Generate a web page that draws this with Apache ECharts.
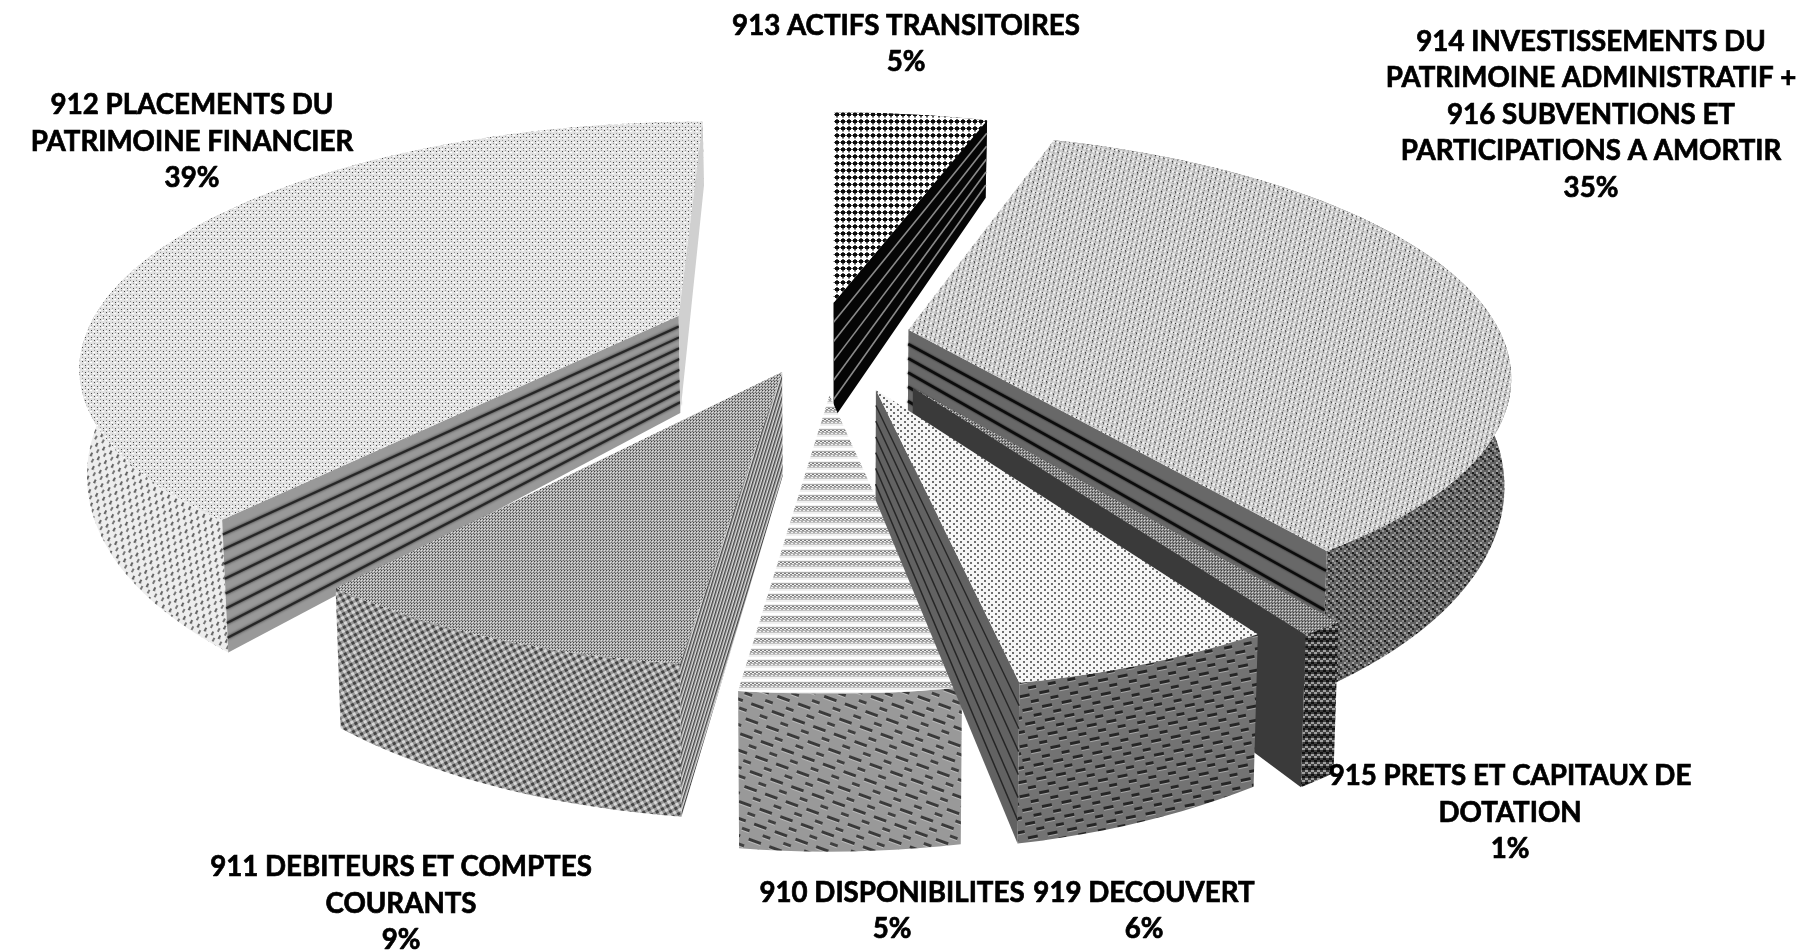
<!DOCTYPE html>
<html><head><meta charset="utf-8">
<style>html,body{margin:0;padding:0;background:#fff}#c{width:1819px;height:950px}</style>
<script src="https://cdn.jsdelivr.net/npm/echarts@6/dist/echarts.min.js"></script>
</head><body><div id="c"></div>
<script>
const categories = ['913 ACTIFS TRANSITOIRES','914 INVESTISSEMENTS DU\nPATRIMOINE ADMINISTRATIF +\n916 SUBVENTIONS ET\nPARTICIPATIONS A AMORTIR','915 PRETS ET CAPITAUX DE\nDOTATION','919 DECOUVERT','910 DISPONIBILITES','911 DEBITEURS ET COMPTES\nCOURANTS','912 PLACEMENTS DU\nPATRIMOINE FINANCIER'];
const values = [5,35,1,6,5,9,39];

// layout (pie order)
const explodeX = [-0.006,0.121,0.123,0.063,-0.012,-0.09,-0.271];
const explodeY = [-0.123,-0.005,0.233,0.24,0.262,0.17,-0.066];
const radiusK = [1,1,0.97,0.96,0.95,0.97,1];
const depthK = [1.22,1,1,1,0.97,0.97,1];
const labelX = [906,1591,1510,1144,892,401,192];
const labelY = [44,115,813,911,911,904,142];
const drawOrder = [0,6,1,2,5,4,3];
const CX=837, CY=331, F=591, G=234, A=0.18, H1=225, H0=125;
const total = values.reduce((a,b)=>a+b,0);
let acc=0;
const angles = values.map(v=>{const a=[acc/total*2*Math.PI,(acc+v)/total*2*Math.PI];acc+=v;return a;});

function tile(w,h,bg,marks){
  const c=document.createElement('canvas');c.width=w;c.height=h;
  const g=c.getContext('2d');g.fillStyle=bg;g.fillRect(0,0,w,h);
  marks.forEach(m=>{g.fillStyle=m[4];g.fillRect(m[0],m[1],m[2],m[3]);});
  return c;
}
function pat(c,rot,sx,sy){return {image:c,repeat:'repeat',rotation:rot||0,scaleX:sx||1,scaleY:sy||sx||1};}
const W='#fff';
const tops=[
  pat(tile(6,7,W,[[1,1,4,3,'#0c0c0c'],[2,0,2,1,'#555'],[2,4,2,1,'#555'],[0,2,1,1,'#555'],[5,2,1,1,'#555'],[2,5,2,1,'#999']])),
  pat(tile(6,7,'#cecece',[[0,0,1,1,'#2a2a2a'],[3,3,1,2,'#333'],[1,1,2,2,'#f6f6f6'],[4,5,2,2,'#f6f6f6'],[2,5,1,1,'#777'],[5,2,1,1,'#777']]),-0.5),
  pat(tile(3,3,'#8c8c8c',[[0,0,1,1,'#3a3a3a'],[1,1,1,1,'#d8d8d8'],[2,2,1,1,'#555']])),
  pat(tile(7,6,'#f6f6f6',[[1,1,2,2,'#6e6e6e'],[4,4,2,2,'#6e6e6e']])),
  pat(tile(4,11,'#f0f0f0',[[0,0,4,1,'#aaa'],[0,1,2,1,'#777'],[2,2,2,1,'#888'],[0,3,4,1,'#b0b0b0'],[1,4,2,1,'#aaa'],[0,5,4,1,'#c4c4c4'],[0,8,4,1,W],[0,9,4,1,W]])),
  pat(tile(3,3,'#a8a8a8',[[0,0,1,1,'#404040'],[1,1,1,1,'#e0e0e0'],[2,2,1,1,'#666'],[2,0,1,1,'#ccc']])),
  pat(tile(6,7,'#e2e2e2',[[1,1,1,1,'#444'],[4,4,1,1,'#444'],[3,2,2,1,W],[0,5,2,1,W],[1,3,1,1,'#999'],[4,0,1,1,'#999']]))
];
const walls=[
  pat(tile(6,6,'#222',[[0,0,2,6,'#444']])),
  pat(tile(8,8,'#626262',[[0,0,2,2,'#1c1c1c'],[2,2,2,2,'#262626'],[4,0,2,2,'#a4a4a4'],[6,2,2,2,'#949494'],[4,4,2,2,'#262626'],[0,6,2,2,'#a4a4a4'],[2,4,2,2,'#8c8c8c']])),
  pat(tile(6,8,'#3e3e3e',[[0,0,3,2,'#111'],[3,2,3,2,'#a0a0a0'],[0,4,3,2,'#a0a0a0'],[3,6,3,2,'#111']])),
  pat(tile(20,14,'#737373',[[1,2,10,3,'#262626'],[11,9,8,3,'#262626'],[1,5,10,1,'#a8a8a8'],[11,12,8,1,'#a0a0a0']]),-0.2),
  pat(tile(22,16,'#999',[[1,2,13,3,'#3a3a3a'],[13,10,8,3,'#404040'],[1,5,13,1,'#bcbcbc'],[13,13,8,1,'#bcbcbc']]),0.35),
  pat(tile(6,6,'#999',[[0,0,3,3,'#444'],[3,3,3,3,'#d6d6d6']]),-0.5),
  pat(tile(8,11,'#ededed',[[1,1,2,4,'#666'],[5,6,2,4,'#777'],[3,3,1,2,'#ccc']]),0.5)
];
const fineDiag=pat(tile(3,3,'#999',[[0,0,1,3,'#444'],[2,0,1,3,'#ddd']]),0.3);
const plain=c=>({fill:c});
// visible cut faces of each slice: [at start angle, at end angle]
const cuts=[
  [null,{fill:'#050505',lines:5,line:'#8a8a8a',lw:1.6}],
  [null,{fill:'#686868',lines:6,line:'#0c0c0c',lw:2.4,blur:2}],
  [null,plain('#3a3a3a')],
  [null,{fill:'#626262',lines:6,line:'#262626',lw:1.4}],
  [null,null],
  [{fill:fineDiag},null],
  [{fill:'#999',lines:8,line:'#262626',lw:2.2,blur:3},plain('#d0d0d0')]
];

function pt(i,th,r,down){
  const rr=r*radiusK[i];
  const X=explodeX[i]+rr*Math.sin(th), Y=explodeY[i]-rr*Math.cos(th), w=1-A*Y;
  let x=CX+F*X/w, y=CY+G*Y/w;
  if(down){x=CX+(x-CX)*(1-0.01*down); y+=(H1/w-H0)*down*depthK[i];}
  return [x,y];
}
function cutFace(i,th,st){
  if(!st) return [];
  const a=pt(i,th,0,0),b=pt(i,th,1,0),c=pt(i,th,1,1),d=pt(i,th,0,1);
  const ch=[{type:'polygon',shape:{points:[a,b,c,d]},style:{fill:st.fill}}];
  for(let k=1;k<=(st.lines||0);k++){
    const t=k/(st.lines+1),p=pt(i,th,0,t),q=pt(i,th,1,t);
    ch.push({type:'line',shape:{x1:p[0],y1:p[1],x2:q[0],y2:q[1]},style:{stroke:st.line,lineWidth:st.lw,fill:null,shadowBlur:st.blur||0,shadowColor:st.line}});
  }
  return ch;
}
function renderSlice(params,api){
  const i=api.value(0),[t0,t1]=angles[i];
  const n=Math.max(4,Math.ceil((t1-t0)*30));
  const top=[pt(i,t0,0,0)],up=[],lo=[];
  for(let k=0;k<=n;k++){
    const th=t0+(t1-t0)*k/n;
    up.push(pt(i,th,1,0));lo.push(pt(i,th,1,1));
  }
  const ch=[];
  ch.push({type:'polygon',shape:{points:up.concat(lo.slice().reverse())},style:{fill:walls[i]}});
  cutFace(i,t0,cuts[i][0]).forEach(e=>ch.push(e));
  cutFace(i,t1,cuts[i][1]).forEach(e=>ch.push(e));
  ch.push({type:'polygon',shape:{points:top.concat(up)},style:{fill:tops[i]}});
  return {type:'group',children:ch};
}
function renderLabel(params,api){
  const i=api.value(0),pct=Math.round(values[i]/total*100);
  return {type:'text',x:labelX[i],y:labelY[i],style:{
    text:categories[i]+'\n'+pct+'%',align:'center',verticalAlign:'middle',
    fontFamily:'Lato',fontWeight:'bold',fontSize:27.7,lineHeight:36.5,fill:'#000',stroke:'#000',lineWidth:0.7}};
}
const chart=echarts.init(document.getElementById('c'),null,{renderer:'canvas',width:1819,height:950});
chart.setOption({
  animation:false,backgroundColor:'#fff',
  series:[
    {type:'custom',coordinateSystem:'none',silent:true,renderItem:renderSlice,data:drawOrder.map(i=>[i,values[i]]),z:2},
    {type:'custom',coordinateSystem:'none',silent:true,renderItem:renderLabel,data:categories.map((c,i)=>[i,values[i]]),z:3}
  ]
});
</script></body></html>
